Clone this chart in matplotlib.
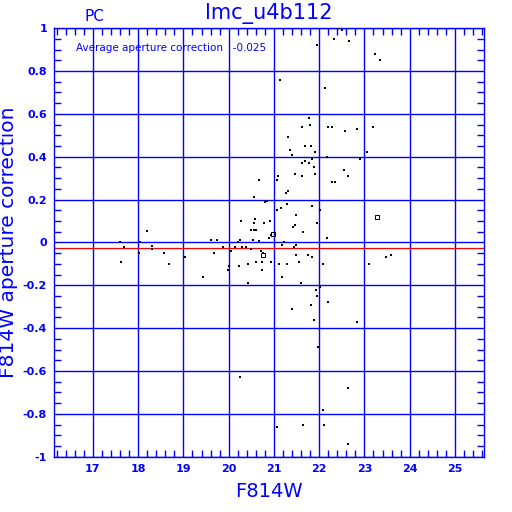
import numpy as np
import matplotlib
matplotlib.use("Agg")
from matplotlib import pyplot as plt
from matplotlib.ticker import MultipleLocator

# F814W magnitude and aperture correction
mag = [21.96, 22.32, 22.44, 22.50, 22.65, 23.23, 23.34, 21.13, 22.12, 21.77,
       21.62, 21.79, 22.19, 22.29, 22.58, 22.83, 23.18, 21.30, 21.68, 21.82,
       21.90, 21.35, 21.40, 21.84, 22.18, 23.06, 22.90, 21.62, 21.68, 21.77,
       21.88, 21.90, 22.55, 21.46, 21.61, 22.63, 21.08, 21.06, 20.67, 22.28,
       22.35, 21.31, 21.26, 20.56, 20.80, 20.84, 21.29, 21.84, 21.16, 21.06,
       22.02, 21.48, 20.58, 20.28, 20.56, 20.78, 20.91, 21.95, 21.46, 21.42,
       20.49, 20.56, 20.60, 21.64, 20.89, 20.93, 22.17, 20.53, 20.67, 21.23,
       21.17, 20.25, 20.20, 19.74, 19.60, 21.48, 20.29, 20.38, 20.14, 19.88,
       20.06, 20.49, 20.71, 20.75, 19.67, 21.44, 21.75, 21.84, 21.48, 21.55,
       21.29, 21.11, 20.93, 20.73, 20.60, 20.42, 20.22, 20.00, 19.98, 20.73,
       19.43, 21.17, 22.08, 23.10, 23.47, 23.58, 20.42, 21.60, 21.93, 22.02,
       21.95, 17.60, 17.69, 17.63, 18.05, 18.20, 18.01, 18.30, 18.30, 18.56,
       18.69, 19.03, 21.81, 22.19, 21.41, 21.88, 22.83, 21.97, 20.26, 22.64,
       22.08, 21.06, 21.64, 22.10, 22.63]
apcor = [0.92, 0.95, 1.00, 0.99, 0.94, 0.88, 0.85, 0.76, 0.72, 0.58,
         0.54, 0.55, 0.54, 0.54, 0.52, 0.53, 0.54, 0.49, 0.45, 0.45,
         0.42, 0.43, 0.41, 0.39, 0.40, 0.42, 0.39, 0.37, 0.38, 0.37,
         0.35, 0.32, 0.34, 0.32, 0.31, 0.31, 0.31, 0.29, 0.29, 0.28,
         0.28, 0.24, 0.23, 0.21, 0.19, 0.195, 0.18, 0.17, 0.16, 0.15,
         0.15, 0.13, 0.11, 0.10, 0.09, 0.09, 0.10, 0.09, 0.08, 0.07,
         0.06, 0.06, 0.06, 0.05, 0.02, 0.035, 0.02, 0.01, 0.007, 0.00,
         -0.01, 0.01, 0.00, 0.01, 0.01, -0.01, -0.02, -0.02, -0.02, -0.02,
         -0.04, -0.03, -0.04, -0.05, -0.05, -0.02, -0.06, -0.07, -0.06, -0.09,
         -0.10, -0.10, -0.09, -0.09, -0.09, -0.10, -0.11, -0.11, -0.13, -0.13,
         -0.16, -0.16, -0.10, -0.10, -0.07, -0.06, -0.19, -0.19, -0.22, -0.21,
         -0.25, 0.00, -0.02, -0.09, 0.00, 0.055, -0.05, -0.015, -0.03, -0.05,
         -0.10, -0.07, -0.29, -0.28, -0.31, -0.36, -0.37, -0.49, -0.63, -0.68,
         -0.78, -0.86, -0.85, -0.85, -0.94]

# stars drawn as open squares
open_mag = [23.28, 20.98, 20.76]
open_apcor = [0.12, 0.04, -0.06]

avg_apcor = -0.025
title = "lmc_u4b112"
chip = "PC"

blue = "#0000ff"

fig = plt.figure(figsize=(5.12, 5.12), dpi=100)
ax = fig.add_axes([0.1055, 0.108, 0.8405, 0.837])

ax.scatter(mag, apcor, s=3, marker="s", c="black", linewidths=0, zorder=3)
ax.scatter(open_mag, open_apcor, s=9, marker="s", facecolors="none",
           edgecolors="black", linewidths=0.7, zorder=3)
ax.axhline(avg_apcor, color="red", lw=0.9, zorder=2)

ax.set_xlim(16.14, 25.65)
ax.set_ylim(-1, 1)
ax.xaxis.set_major_locator(MultipleLocator(1))
ax.xaxis.set_minor_locator(MultipleLocator(0.2))
ax.yaxis.set_major_locator(MultipleLocator(0.2))
ax.yaxis.set_minor_locator(MultipleLocator(0.05))
ax.grid(True, which="major", color=blue, lw=1.0, zorder=1)

for s in ax.spines.values():
    s.set_color(blue)
    s.set_linewidth(1.0)

ax.tick_params(which="both", direction="in", colors=blue, top=True, right=True,
               width=1.0)
ax.tick_params(which="major", length=0, labelsize=8, pad=5)
ax.tick_params(which="minor", length=5)
ax.set_xticks([17, 18, 19, 20, 21, 22, 23, 24, 25])
ax.set_xticklabels(["17", "18", "19", "20", "21", "22", "23", "24", "25"])
yt = np.round(np.arange(-1, 1.01, 0.2), 1)
ax.set_yticks(yt)
ax.set_yticklabels(["%g" % v if v != 0 else "0" for v in yt])
for lab in ax.get_xticklabels() + ax.get_yticklabels():
    lab.set_fontweight("bold")
    lab.set_color(blue)

ax.set_xlabel("F814W", color=blue, fontsize=14, labelpad=6)
ax.set_ylabel("F814W aperture correction", color=blue, fontsize=14.5)
ax.yaxis.set_label_coords(-0.084, 0.5)

ax.text(0.5, 1.01, title, transform=ax.transAxes, ha="center", va="bottom",
        color=blue, fontsize=15)
ax.text(0.095, 1.01, chip, transform=ax.transAxes, ha="center", va="bottom",
        color=blue, fontsize=11)
ax.text(0.051, 0.953, "Average aperture correction   -0.025", transform=ax.transAxes,
        ha="left", va="center", color=blue, fontsize=7.5)

plt.savefig("out.png", dpi=100)
